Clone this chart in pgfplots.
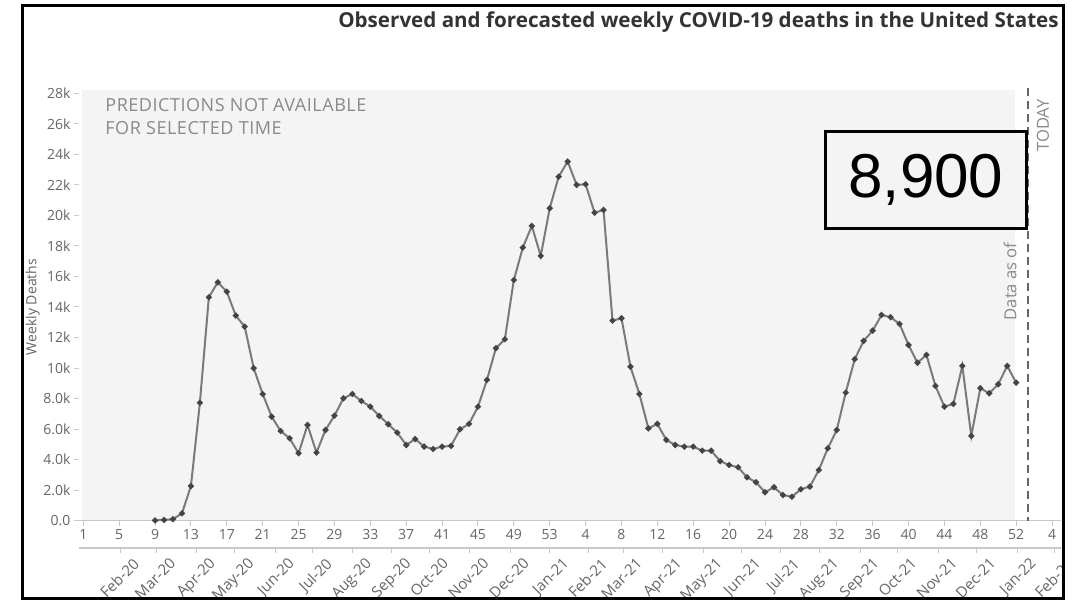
\documentclass[border=0pt]{standalone}
\usepackage{fontspec}
\usepackage{pgfplots}
\pgfplotsset{compat=1.18}
\setmainfont{Open Sans}
\newfontfamily\arialf{Liberation Sans}
\newfontfamily\spacedf[LetterSpace=3]{Open Sans}
\definecolor{bggray}{HTML}{F4F4F4}
\definecolor{axisgray}{HTML}{C8C8C8}
\definecolor{ticktext}{HTML}{666666}
\definecolor{linegray}{HTML}{7A7A7A}
\definecolor{markgray}{HTML}{444444}
\definecolor{notegray}{HTML}{8A8A8A}
\definecolor{titlegray}{HTML}{333333}
\newcommand{\px}[2]{({#1*0.5pt},{(600-#2)*0.5pt})}
\begin{document}
\begin{tikzpicture}
\path[use as bounding box] (0,0) rectangle (540.5pt,300pt);
\begin{scope}
\clip \px{22}{6} rectangle \px{1063}{598};
\fill[white] \px{22}{6} rectangle \px{1063}{598};
\fill[bggray] \px{82}{90} rectangle \px{1015}{520.7};
\begin{axis}[
  at={(39.4pt,39.65pt)}, anchor=south west,
  scale only axis, width=491.1pt, height=213.7pt,
  xmin=0.5, xmax=110, ymin=0, ymax=28000,
  axis x line*=bottom, axis y line*=left,
  y axis line style={draw=none},
  x axis line style={draw=axisgray, line width=0.6pt, -},
  tick align=outside, major tick length=2.5pt,
  tick style={draw=axisgray, line width=0.5pt},
  xtick pos=bottom, ytick pos=left,
  scaled x ticks=false, scaled y ticks=false,
  xtick={1,5,...,109},
  xticklabels={1,5,9,13,17,21,25,29,33,37,41,45,49,53,4,8,12,16,20,24,28,32,36,40,44,48,52,4},
  ytick={0,2000,...,28000},
  yticklabels={0.0,2.0k,4.0k,6.0k,8.0k,10k,12k,14k,16k,18k,20k,22k,24k,26k,28k},
  tick label style={font=\fontsize{7}{8}\selectfont, text=ticktext},
  yticklabel style={inner sep=1.5pt},
  xticklabel style={inner sep=1.5pt},
  ylabel={Weekly Deaths},
  ylabel style={at={(axis description cs:-0.047,0.5)}, anchor=center, font=\fontsize{7}{8}\selectfont, text=ticktext},
  clip=false,
]
\addplot[color=linegray, line width=1pt, mark=*, mark size=0.95pt, mark options={fill=markgray, draw=markgray}] coordinates {
(9,20)(10,50)(11,100)(12,480)(13,2270)(14,7730)(15,14640)(16,15620)(17,15000)(18,13440)
(19,12710)(20,9990)(21,8300)(22,6820)(23,5880)(24,5400)(25,4420)(26,6270)(27,4460)(28,5940)
(29,6880)(30,8020)(31,8300)(32,7840)(33,7470)(34,6860)(35,6320)(36,5770)(37,4960)(38,5350)
(39,4850)(40,4700)(41,4850)(42,4900)(43,5990)(44,6340)(45,7470)(46,9220)(47,11300)(48,11890)
(49,15770)(50,17890)(51,19310)(52,17350)(53,20470)(54,22540)(55,23530)(56,22000)(57,22040)(58,20180)
(59,20360)(60,13110)(61,13260)(62,10090)(63,8300)(64,6050)(65,6340)(66,5290)(67,4960)(68,4850)
(69,4850)(70,4590)(71,4590)(72,3900)(73,3650)(74,3500)(75,2840)(76,2520)(77,1860)(78,2190)
(79,1680)(80,1570)(81,2060)(82,2230)(83,3320)(84,4740)(85,5940)(86,8390)(87,10580)(88,11780)
(89,12450)(90,13480)(91,13330)(92,12890)(93,11510)(94,10350)(95,10860)(96,8830)(97,7470)(98,7650)
(99,10140)(100,5550)(101,8680)(102,8350)(103,8940)(104,10140)(105,9040)
};
\end{axis}
\begin{axis}[
  at={(39.4pt,26pt)}, anchor=south west,
  scale only axis, width=491.1pt, height=1pt,
  xmin=0.5, xmax=110, ymin=0, ymax=1,
  axis x line*=bottom, axis y line=none,
  x axis line style={draw=axisgray, line width=0.6pt, -},
  tick align=outside, major tick length=2.5pt,
  tick style={draw=axisgray, line width=0.5pt},
  xtick pos=bottom,
  xtick={5.1,9.2,13.6,17.9,22.4,26.6,31.0,35.4,39.6,44.1,48.6,53.0,57.3,61.2,65.6,70.1,74.4,78.7,83.1,87.6,91.8,96.3,100.6,105.1,109.3},
  xticklabels={Feb-20,Mar-20,Apr-20,May-20,Jun-20,Jul-20,Aug-20,Sep-20,Oct-20,Nov-20,Dec-20,Jan-21,Feb-21,Mar-21,Apr-21,May-21,Jun-21,Jul-21,Aug-21,Sep-21,Oct-21,Nov-21,Dec-21,Jan-22,Feb-22},
  xticklabel style={rotate=45, anchor=north east, font=\fontsize{7.5}{8}\selectfont, text=ticktext, xshift=3.5pt, yshift=-5pt, inner sep=0.5pt},
  clip=false,
]
\addplot[draw=none] coordinates {(1,0)};
\end{axis}
% today line
\draw[color=black!60, line width=1pt, dash pattern=on 4pt off 2.5pt] \px{1028.3}{88} -- \px{1028.3}{520.7};
\node[rotate=90, anchor=west, font=\fontsize{8.3}{9}\selectfont, text=notegray, inner sep=0pt] at \px{1043}{152} {TODAY};
\node[rotate=90, anchor=east, font=\fontsize{8.3}{9}\selectfont, text=notegray, inner sep=0pt] at \px{1010}{242} {Data as of};
% box
\draw[black, line width=1.5pt, fill=bggray] \px{825}{131.7} rectangle \px{1026.7}{228.3};
\node[font=\arialf\fontsize{31}{36}\selectfont, text=black, inner sep=0pt] at \px{925.9}{180} {8,900};
% note
\node[anchor=north west, align=left, font=\spacedf\fontsize{9}{11.5}\selectfont, text=notegray, inner sep=0pt] at \px{105}{98} {PREDICTIONS NOT AVAILABLE\\FOR SELECTED TIME};
% title
\node[anchor=east, font=\bfseries\fontsize{10.3}{12}\selectfont, text=titlegray, inner sep=0pt] at \px{1059}{22} {Observed and forecasted weekly COVID-19 deaths in the United States};
\end{scope}
\draw[black, line width=1.5pt] \px{22.5}{5.5} rectangle \px{1063.5}{598.5};
\end{tikzpicture}
\end{document}
